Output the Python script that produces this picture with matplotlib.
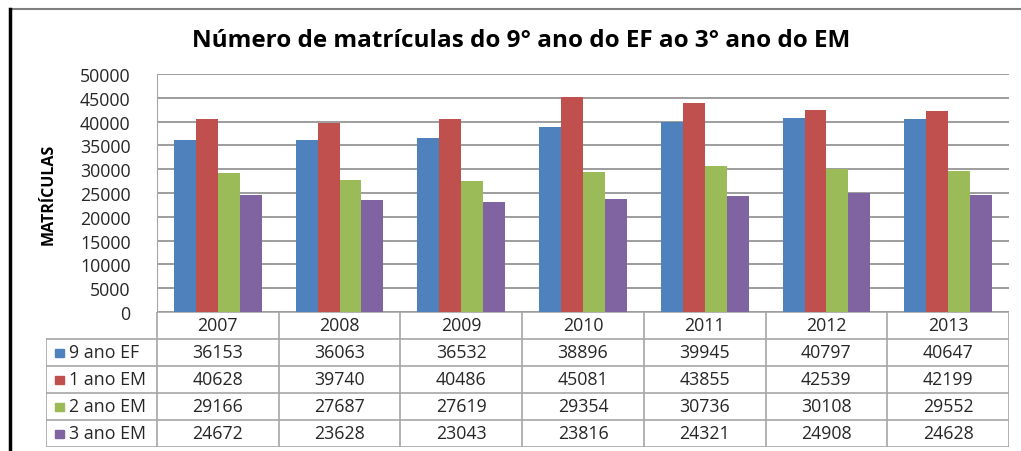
import matplotlib

matplotlib.use("Agg")
import matplotlib.pyplot as plt
from matplotlib.lines import Line2D
from matplotlib.patches import Rectangle

plt.rcParams["font.family"] = ["Open Sans", "DejaVu Sans"]

years = ["2007", "2008", "2009", "2010", "2011", "2012", "2013"]
series_names = ["9 ano EF", "1 ano EM", "2 ano EM", "3 ano EM"]
ef9 = [36153, 36063, 36532, 38896, 39945, 40797, 40647]
em1 = [40628, 39740, 40486, 45081, 43855, 42539, 42199]
em2 = [29166, 27687, 27619, 29354, 30736, 30108, 29552]
em3 = [24672, 23628, 23043, 23816, 24321, 24908, 24628]
series = [ef9, em1, em2, em3]
colors = ["#4F81BD", "#C0504D", "#9BBB59", "#8064A2"]
yticks = list(range(0, 50001, 5000))

W, H = 1021, 452
fig = plt.figure(figsize=(W / 100, H / 100), dpi=100)

grid_c = "#8c8c8c"
line_c = "#a6a6a6"
txt_c = "#262626"
fs = 12.8

# plot area
px0, px1, py_top, py_bot = 157, 1009, 75, 313
ax = fig.add_axes([px0 / W, 1 - py_bot / H, (px1 - px0) / W, (py_bot - py_top) / H])
n = len(years)
bw = 0.18
for k, vals in enumerate(series):
    xs = [i + 0.5 + (k - 1.5) * bw for i in range(n)]
    ax.bar(xs, vals, width=bw, color=colors[k], zorder=3, linewidth=0)
ax.set_xlim(0, n)
ax.set_ylim(0, 50000)
ax.set_yticks(yticks)
ax.set_yticklabels([str(v) for v in yticks], fontsize=fs, color=txt_c)
ax.tick_params(axis="y", length=0, pad=19)
ax.set_xticks([])
ax.yaxis.grid(True, color=grid_c, linewidth=1.2, zorder=0)
for s in ["top", "right", "bottom"]:
    ax.spines[s].set_visible(False)
ax.spines["left"].set_color(line_c)
ax.set_ylabel("MATRÍCULAS", fontsize=11.5, fontweight="bold", labelpad=17)

# data table
tx0, ty_top, ty_bot = 46, 313, 448
leg_w = (px0 - tx0) / ((px1 - px0) / n)
tab = fig.add_axes([tx0 / W, 1 - ty_bot / H, (px1 - tx0) / W, (ty_bot - ty_top) / H])
tab.set_xlim(-leg_w, n)
tab.set_ylim(5, 0)
tab.axis("off")
lw = 1.2
tab.plot([0, n], [0, 0], color=line_c, lw=lw)
for r in range(1, 6):
    tab.plot([-leg_w, n], [r, r], color=line_c, lw=lw)
tab.plot([-leg_w, -leg_w], [1, 5], color=line_c, lw=lw)
for c in range(n + 1):
    tab.plot([c, c], [0, 5], color=line_c, lw=lw)
for i, y in enumerate(years):
    tab.text(i + 0.5, 0.48, y, ha="center", va="center", fontsize=fs, color=txt_c)
for k, vals in enumerate(series):
    r = k + 1
    tab.add_patch(Rectangle((-leg_w + 0.07, r + 0.36), 0.075, 0.3, color=colors[k]))
    tab.text(-leg_w + 0.19, r + 0.5, series_names[k], ha="left", va="center",
             fontsize=fs, color=txt_c)
    for i, v in enumerate(vals):
        tab.text(i + 0.5, r + 0.5, str(v), ha="center", va="center",
                 fontsize=fs, color=txt_c)

fig.text(521 / W, 1 - 41 / H, "Número de matrículas do 9° ano do EF ao 3° ano do EM",
         ha="center", va="center", fontsize=17.5, fontweight="bold")

# outer frame pieces
fig.add_artist(Line2D([10 / W, 1], [1 - 10 / H, 1 - 10 / H], color="#808080", lw=1.5))
fig.add_artist(Line2D([10 / W, 10 / W], [0, 1 - 10 / H], color="black", lw=2.5))

fig.savefig("out.png", dpi=100)
